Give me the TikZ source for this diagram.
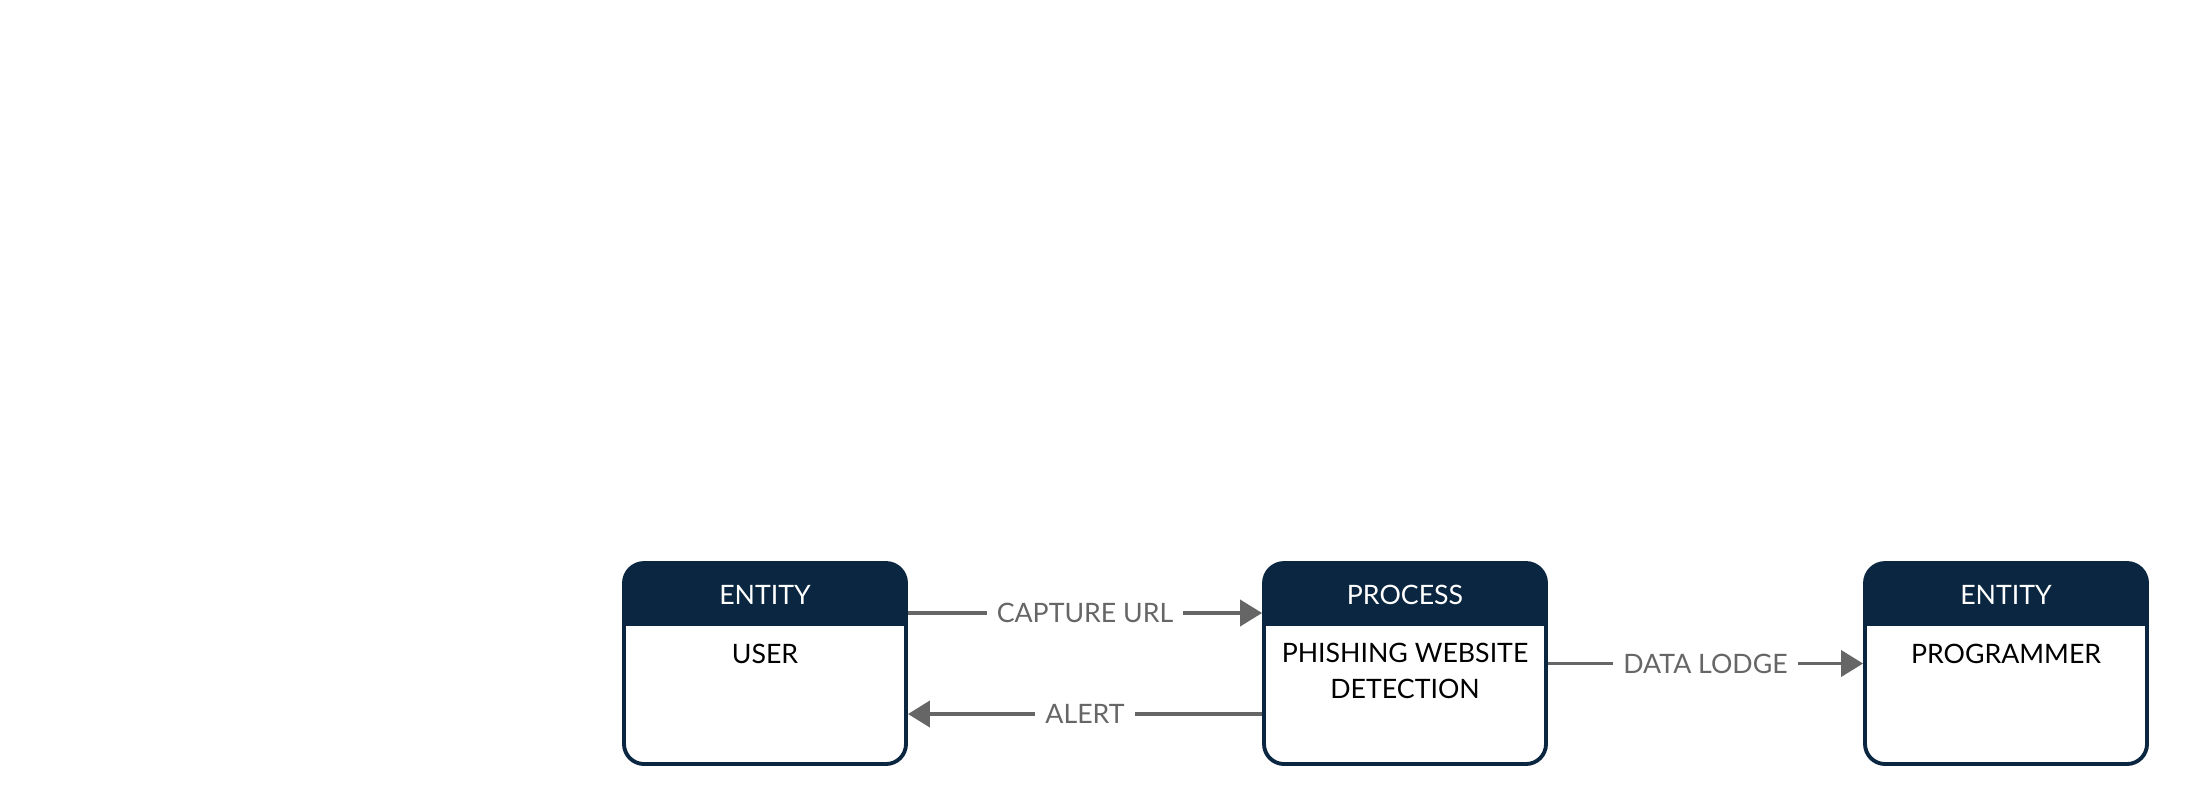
\documentclass[tikz,border=0pt]{standalone}
\usepackage{fontspec}
\setmainfont{Lato}
\usepackage{xcolor}
\usetikzlibrary{arrows.meta, positioning, calc}
\definecolor{navy}{HTML}{0A2640}
\definecolor{flowgray}{HTML}{666666}
\tikzset{
    dfd/.style={>={Triangle[length=0.22cm, width=0.26cm]}, font=\fontsize{7.6}{10.4}\selectfont},
    dfdbox/.style={draw=navy, line width=1.1pt, rounded corners=0.2cm,
        minimum width=2.82cm, minimum height=2.01cm, inner sep=0pt,
        path picture={\fill[navy, sharp corners] (path picture bounding box.north west)
            rectangle ([yshift=-0.63cm]path picture bounding box.north east);}},
    headtext/.style={text=white, inner sep=0pt},
    bodytext/.style={text=black, align=center, inner sep=0pt},
    flow/.style={->, draw=flowgray, line width=1.1pt},
    % label sitting on the arrow, white behind it
    flowlabel/.style={midway, fill=white, text=flowgray, inner xsep=0.1cm, inner ysep=0.05cm},
}

\begin{document}
\begin{tikzpicture}[dfd]
    \useasboundingbox (0,0) rectangle (21.86,8.04);

    \node[dfdbox] (user) at (7.65,1.405) {};
    \node[headtext] (userhead) at ([yshift=-0.34cm]user.north) {ENTITY};
    \node[bodytext] (username) at ([yshift=-0.93cm]user.north) {USER};

    \node[dfdbox] (detect) at (14.05,1.405) {};
    \node[headtext] (detecthead) at ([yshift=-0.34cm]detect.north) {PROCESS};
    \node[bodytext, anchor=north] (detectname) at ([yshift=-0.81cm]detect.north) {PHISHING WEBSITE\\DETECTION};

    \node[dfdbox] (prog) at (20.06,1.405) {};
    \node[headtext] (proghead) at ([yshift=-0.34cm]prog.north) {ENTITY};
    \node[bodytext] (progname) at ([yshift=-0.93cm]prog.north) {PROGRAMMER};

    \draw[flow] ([yshift=0.505cm]user.east) -- ([yshift=0.505cm]detect.west) node[flowlabel] {CAPTURE URL};
    \draw[flow] ([yshift=-0.505cm]detect.west) -- ([yshift=-0.505cm]user.east) node[flowlabel] {ALERT};
    \draw[flow] (detect.east) -- (prog.west) node[flowlabel] {DATA LODGE};

\end{tikzpicture}
\end{document}
